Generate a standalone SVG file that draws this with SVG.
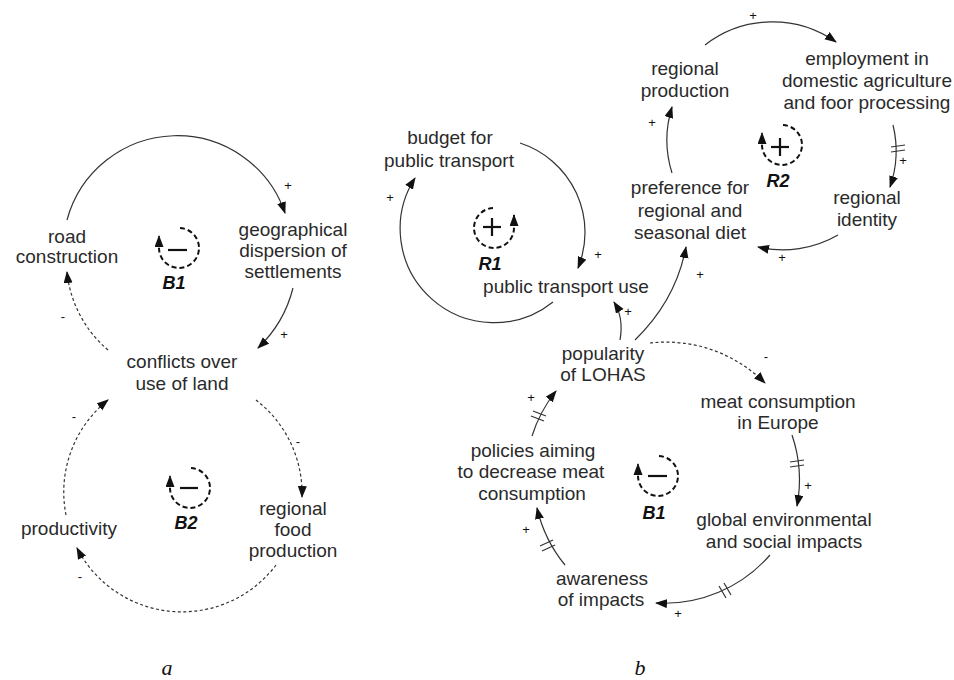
<svg xmlns="http://www.w3.org/2000/svg" width="954" height="680" viewBox="0 0 954 680">
<defs>
<marker id="ah" markerUnits="userSpaceOnUse" markerWidth="12" markerHeight="10" refX="11" refY="4.5" orient="auto"><path d="M0,0 L12,4.5 L0,9 z" fill="#111"/></marker>
<marker id="ih" markerUnits="userSpaceOnUse" markerWidth="12" markerHeight="10" refX="11" refY="4.5" orient="auto"><path d="M0,0 L12,4.5 L0,9 z" fill="#111"/></marker>
<style>
text{font-family:"Liberation Sans",Arial,sans-serif;font-size:19px;fill:#2a2a2a;text-anchor:middle}
.s{font-size:13px;fill:#111}
.lb{font-weight:bold;font-style:italic;font-size:18px;fill:#111}
.cap{font-family:"Liberation Serif","Times New Roman",serif;font-style:italic;font-size:22px;fill:#111}
.c{fill:none;stroke:#333;stroke-width:1.2}
.d{stroke-dasharray:3 2.5}
.h{stroke:#333;stroke-width:1.2}
.ic{fill:none;stroke:#111;stroke-width:2;stroke-dasharray:5 3}
.sg{stroke:#111;stroke-width:2.2}
</style>
</defs>
<g id="connectors">
<path class="c" d="M67 220 A114 114 0 0 1 285 213" marker-end="url(#ah)"/>
<path class="c" d="M293 288 A125 125 0 0 1 258 348" marker-end="url(#ah)"/>
<path class="c d" d="M108 350 A118 118 0 0 1 67 272" marker-end="url(#ah)"/>
<path class="c d" d="M256 400 A118 118 0 0 1 302 497" marker-end="url(#ah)"/>
<path class="c d" d="M276 565 A118 118 0 0 1 77 548" marker-end="url(#ah)"/>
<path class="c d" d="M66 515 A118 118 0 0 1 108 400" marker-end="url(#ah)"/>
<path class="c" d="M553 302 A94 94 0 0 1 415 178" marker-end="url(#ah)"/>
<path class="c" d="M520 143 A94 94 0 0 1 578 268" marker-end="url(#ah)"/>
<path class="c" d="M620 340 Q624 318 614 302" marker-end="url(#ah)"/>
<path class="c" d="M635 340 Q676 300 686 247" marker-end="url(#ah)"/>
<path class="c" d="M705 45 A110 110 0 0 1 836 42" marker-end="url(#ah)"/>
<path class="c" d="M893 125 A110 110 0 0 1 890 187" marker-end="url(#ah)"/>
<path class="c" d="M838 235 A110 110 0 0 1 758 247" marker-end="url(#ah)"/>
<path class="c" d="M672 173 A110 110 0 0 1 672 107" marker-end="url(#ah)"/>
<path class="c d" d="M650 343 A140 140 0 0 1 765 383" marker-end="url(#ah)"/>
<path class="c" d="M792 435 A140 140 0 0 1 797 506" marker-end="url(#ah)"/>
<path class="c" d="M770 555 A140 140 0 0 1 656 603" marker-end="url(#ah)"/>
<path class="c" d="M565 565 A140 140 0 0 1 537 508" marker-end="url(#ah)"/>
<path class="c" d="M532 436 A140 140 0 0 1 556 391" marker-end="url(#ah)"/>
<g id="delays">
<line class="h" x1="891" y1="147" x2="905" y2="145"/><line class="h" x1="891" y1="152" x2="905" y2="150"/>
<line class="h" x1="790" y1="462" x2="804" y2="460"/><line class="h" x1="790" y1="467" x2="804" y2="465"/>
<line class="h" x1="724" y1="583" x2="731" y2="595"/><line class="h" x1="719" y1="586" x2="726" y2="598"/>
<line class="h" x1="540" y1="546" x2="553" y2="540"/><line class="h" x1="542" y1="551" x2="555" y2="545"/>
<line class="h" x1="531" y1="416" x2="544" y2="421"/><line class="h" x1="533" y1="411" x2="546" y2="416"/>
</g>
<g id="polarities">
<text class="s" x="288" y="190">+</text>
<text class="s" x="284" y="339">+</text>
<text class="s" x="63" y="321">-</text>
<text class="s" x="298" y="446">-</text>
<text class="s" x="80" y="581">-</text>
<text class="s" x="74" y="421">-</text>
<text class="s" x="390" y="202">+</text>
<text class="s" x="598" y="259">+</text>
<text class="s" x="628" y="316">+</text>
<text class="s" x="700" y="279">+</text>
<text class="s" x="753" y="20">+</text>
<text class="s" x="652" y="127">+</text>
<text class="s" x="903" y="165">+</text>
<text class="s" x="782" y="262">+</text>
<text class="s" x="766" y="361">-</text>
<text class="s" x="808" y="490">+</text>
<text class="s" x="678" y="618">+</text>
<text class="s" x="526" y="534">+</text>
<text class="s" x="531" y="402">+</text>
</g>
</g>
<g id="road"><text x="67" y="243">road</text><text x="67" y="263">construction</text></g>
<g id="geo"><text x="293" y="236">geographical</text><text x="293" y="257">dispersion of</text><text x="293" y="278">settlements</text></g>
<g id="conflicts"><text x="182" y="368">conflicts over</text><text x="182" y="390">use of land</text></g>
<g id="productivity"><text x="69" y="535">productivity</text></g>
<g id="rfp"><text x="293" y="515">regional</text><text x="293" y="536">food</text><text x="293" y="557">production</text></g>
<g id="loopB1a"><path class="ic" d="M180 228 A20 20 0 1 1 159 248 L159 236" marker-end="url(#ih)"/><line class="sg" x1="168" y1="250" x2="187" y2="250"/><text class="lb" x="174" y="289">B1</text></g>
<g id="loopB2a"><path class="ic" d="M191 468 A20 20 0 1 1 170 488 L170 476" marker-end="url(#ih)"/><line class="sg" x1="180" y1="488" x2="198" y2="488"/><text class="lb" x="186" y="529">B2</text></g>
<g id="budget"><text x="450" y="144">budget for</text><text x="449" y="167">public transport</text></g>
<g id="ptu"><text x="566" y="293">public transport use</text></g>
<g id="loopR1"><path class="ic" d="M493 208 A20 20 0 1 0 514 228 L514 215" marker-end="url(#ih)"/><line class="sg" x1="483" y1="227" x2="501" y2="227"/><line class="sg" x1="492" y1="218" x2="492" y2="236"/><text class="lb" x="490" y="270">R1</text></g>
<g id="regprod"><text x="685" y="75">regional</text><text x="685" y="97">production</text></g>
<g id="employment"><text x="867" y="65">employment in</text><text x="867" y="87">domestic agriculture</text><text x="867" y="109">and foor processing</text></g>
<g id="loopR2"><path class="ic" d="M783 125 A20 20 0 1 1 762 145 L762 133" marker-end="url(#ih)"/><line class="sg" x1="771" y1="147" x2="789" y2="147"/><line class="sg" x1="780" y1="138" x2="780" y2="156"/><text class="lb" x="778" y="187">R2</text></g>
<g id="preference"><text x="690" y="194">preference for</text><text x="690" y="217">regional and</text><text x="690" y="239">seasonal diet</text></g>
<g id="identity"><text x="867" y="204">regional</text><text x="867" y="226">identity</text></g>
<g id="lohas"><text x="603" y="360">popularity</text><text x="603" y="381">of LOHAS</text></g>
<g id="meat"><text x="778" y="408">meat consumption</text><text x="778" y="429">in Europe</text></g>
<g id="policies"><text x="533" y="457">policies aiming</text><text x="531" y="478">to decrease meat</text><text x="532" y="500">consumption</text></g>
<g id="loopB1b"><path class="ic" d="M659 456 A20 20 0 1 1 638 476 L638 464" marker-end="url(#ih)"/><line class="sg" x1="648" y1="476" x2="667" y2="476"/><text class="lb" x="654" y="519">B1</text></g>
<g id="global"><text x="784" y="526">global environmental</text><text x="784" y="548">and social impacts</text></g>
<g id="awareness"><text x="602" y="585">awareness</text><text x="601" y="606">of impacts</text></g>
<text class="cap" x="167" y="675">a</text>
<text class="cap" x="640" y="675">b</text>
</svg>
